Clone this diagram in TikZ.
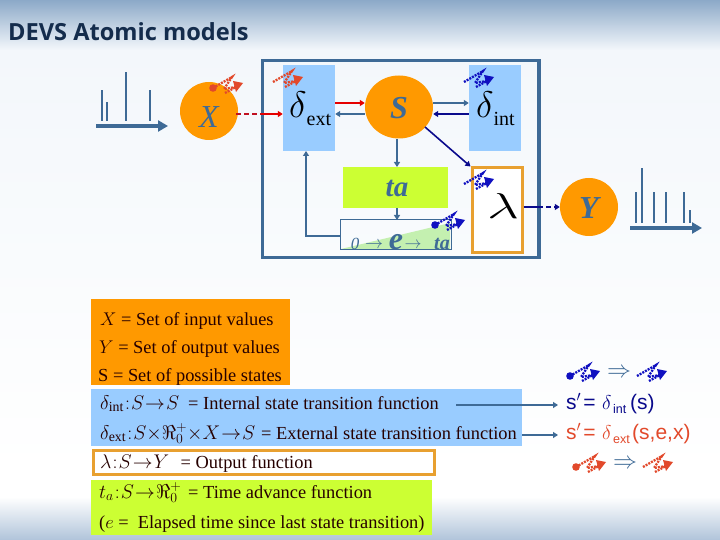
\documentclass[tikz,border=0pt]{standalone}
\usepackage{fix-cm}
\usepackage{fontspec}
\setmainfont{Liberation Serif}
\newfontfamily\titlefont{Open Sans}
\newfontfamily\arial{Liberation Sans}
\usetikzlibrary{arrows.meta,calc,shapes.geometric}
\definecolor{steel}{HTML}{3E6A96}
\definecolor{navyb}{HTML}{0A0A8C}
\definecolor{orng}{HTML}{FF9900}
\definecolor{orbd}{HTML}{E8A030}
\definecolor{skyb}{HTML}{99CCFF}
\definecolor{lime}{HTML}{CCFF33}
\definecolor{redo}{HTML}{E2492B}
\definecolor{blued}{HTML}{1010C0}
\definecolor{wine}{HTML}{C01020}
\definecolor{bgtop}{HTML}{8CA9C8}
\definecolor{bgmid}{HTML}{F3F7FB}
\definecolor{bgbot}{HTML}{B0C4DA}
\definecolor{titlec}{HTML}{142C4C}
\definecolor{wedge}{HTML}{C4F0B0}
\newcommand{\tightm}{\thinmuskip=0mu\medmuskip=0mu\thickmuskip=1mu}
\tikzset{
  x=1pt,y=-1pt,
  circ/.style={ellipse,fill=orng,inner sep=0pt},
  sbox/.style={fill=skyb,inner sep=0pt,minimum width=52pt,minimum height=86pt},
  sym/.style={font=\fontsize{32}{32}\selectfont\itshape\bfseries,text=steel},
  dlab/.style={anchor=base west,inner sep=0pt,font=\fontsize{37}{37}\selectfont},
  ln/.style={steel,line width=1.4pt,-{Triangle[length=5pt,width=6pt]}},
  nv/.style={navyb,line width=1.6pt,-{Triangle[length=5pt,width=6pt]}},
  rd/.style={red!90!black,line width=1.6pt,-{Triangle[length=5pt,width=6pt]}},
  bar/.style={steel,line width=1.4pt},
  axisarrow/.style={steel,line width=3.4pt,-{Triangle[length=10pt,width=11pt]}},
  squigl/.style={line width=2.3pt,dash pattern=on 2pt off 1.1pt},
  txt/.style={anchor=base west,inner sep=0pt,font=\fontsize{18.4}{18.4}\selectfont,text=black!85!red},
  mth/.style={anchor=base west,inner sep=0pt,font=\fontsize{19.8}{19.8}\selectfont\tightm,text=black!85!red},
  frm/.style={font=\arial\fontsize{21}{21}\selectfont,anchor=base west,inner sep=0pt},
  dbl/.style={steel,inner sep=0pt,font=\fontsize{24}{24}\selectfont},
  elab/.style={anchor=base,inner sep=0pt,text=steel}
}
\newcommand{\squig}[3]{%
  \begin{scope}[shift={(#1,#2)}]
    \draw[squigl,#3] (0,0)--(19,-11)--(11,1)--(23,-1);
    \draw[squigl,#3] (12,5)--(23,-1);
    \fill[#3] (30,-5)--(20,-7)--(23,4)--cycle;
  \end{scope}}
\newcommand{\sdot}[3]{\fill[#3] (#1,#2) circle (3.8pt);}
\newcommand{\fsub}[1]{\raisebox{-4pt}{\fontsize{12.5}{12.5}\selectfont #1}}
\begin{document}
\begin{tikzpicture}
\useasboundingbox (0,0) rectangle (720,540);
% background
\fill[white] (0,0) rectangle (720,540);
\shade[top color=bgmid,bottom color=white] (0,50) rectangle (720,470);
\shade[top color=bgtop,bottom color=bgmid] (0,0) rectangle (720,50);
\shade[top color=white,bottom color=bgbot] (0,497) rectangle (720,540);
% title
\node[anchor=base west,inner sep=0pt,font=\titlefont\bfseries\fontsize{23.6}{23.6}\selectfont,text=titlec] (title) at (8,41) {DEVS Atomic models};
% frame
\draw[steel,line width=3pt] (262,61) rectangle (538,257);
\draw[steel,line width=.6pt] (540,59.5) -- (540,258.5);
% boxes
\node[sbox] (dext) at (309,108) {};
\node[sbox] (dint) at (495,108) {};
\node[dlab] (dextl) at (289,118) {$\delta$\raisebox{-8pt}{\fontsize{20}{20}\selectfont ext}};
\node[dlab] (dintl) at (476,118) {$\delta$\raisebox{-8pt}{\fontsize{20}{20}\selectfont int}};
\node[circ,minimum width=68pt,minimum height=63pt] (S) at (399,107) {};
\node[sym] (Sl) at (399,108) {S};
\node[circ,minimum width=58pt,minimum height=58pt] (X) at (209,111) {};
\node[sym,font=\fontsize{32}{32}\selectfont\itshape] (Xl) at (209,117) {X};
\node[circ,minimum width=58pt,minimum height=58pt] (Y) at (589,207) {};
\node[sym] (Yl) at (589,208) {Y};
\node[fill=lime,inner sep=0pt,minimum width=105pt,minimum height=41pt] (ta) at (395.5,187.5) {};
\node[sym,font=\fontsize{29}{29}\selectfont\itshape\bfseries] (tal) at (397,188) {ta};
% e box
\fill[wedge] (341,249)--(450,223)--(450,249)--cycle;
\node[draw=steel,line width=.7pt,inner sep=0pt,minimum width=111pt,minimum height=30pt] (ebox) at (395.5,234) {};
\node[elab,font=\fontsize{17}{17}\selectfont\itshape] (e0) at (355,249) {0};
\node[elab,font=\fontsize{18}{18}\selectfont] (e1) at (374,248.5) {$\rightarrow$};
\node[elab,font=\fontsize{32}{32}\selectfont\itshape\bfseries] (e2) at (396,249) {e};
\node[elab,font=\fontsize{17}{17}\selectfont] (e3) at (413,248.5) {$\rightarrow$};
\node[elab,font=\fontsize{20}{20}\selectfont\itshape\bfseries] (e4) at (442,249) {ta};
% lambda
\node[draw=orbd,line width=3pt,fill=white,inner sep=0pt,minimum width=50pt,minimum height=84pt] (lam) at (497,210) {};
\node[inner sep=0pt,font=\fontsize{36}{36}\selectfont] (laml) at (503,206) {\scalebox{1.55}[1]{$\lambda$}};
% connectors
\coordinate (xa) at (236,114);
\coordinate (xb) at (261,114);
\draw[wine,line width=1.6pt,dash pattern=on 5pt off 3pt] (xa)--(xb);
\draw[rd] (xb)--(dext.west|-xb);
\draw[rd] (dext.east|-0,103)--(S.west|-0,103);
\draw[ln] (S.west|-0,114)--(dext.east|-0,114);
\draw[ln] (S.east|-0,103)--(dint.west|-0,103);
\draw[nv] (dint.west|-0,114)--(S.east|-0,114);
\draw[nv] (425,127)--(lam.north west);
\draw[ln] (397,139)--(397,167);
\draw[ln] (397,208)--(397,220);
\draw[ln] (340,236)-|(306,151);
\coordinate (la) at (538,207);
\draw[navyb,line width=1.6pt] (lam.east|-la)--(la);
\draw[nv,dash pattern=on 5pt off 3pt] (la)--(Y.west|-la);
% signals left
\draw[axisarrow] (96,126)--(168,126);
\foreach \x/\t in {102/90,107/102,126/72,150/90}{\draw[bar] (\x,121)--(\x,\t);}
% signals right
\draw[axisarrow] (630,228)--(702,228);
\foreach \x/\t in {636/192,642/168,654/192,666/192,684/192,690/210}{\draw[bar] (\x,223)--(\x,\t);}
% squiggles
\sdot{213}{88}{redo}\squig{213}{88}{redo}
\squig{273}{82}{redo}
\squig{464}{82}{blued}
\squig{464}{184}{blued}
\sdot{435}{225}{blued}\squig{435}{225}{blued}
\sdot{570}{376}{blued}\squig{570}{376}{blued}
\squig{637}{376}{blued}
\sdot{576}{467}{redo}\squig{576}{467}{redo}
\squig{643}{467}{redo}
\node[dbl] (imp1) at (619,373) {$\Rightarrow$};
\node[dbl] (imp2) at (625,464) {$\Rightarrow$};
% text boxes
\fill[orng] (91,299) rectangle (290,385);
\fill[skyb] (91,389) rectangle (522,446);
\draw[orbd,line width=3pt,fill=white] (93.5,450.5) rectangle (434.5,474);
\fill[lime] (91,480) rectangle (432,535);
\node[txt] (t1) at (100,325) {$X$ = Set of input values};
\node[txt] (t2) at (99,353) {$Y$ = Set of output values};
\node[txt] (t3) at (98,381) {S = Set of possible states};
\node[mth] (t4m) at (100,409) {$\delta_{\mathrm{int}}:S\rightarrow S$};
\node[txt] (t4) at (188,409) {= Internal state transition function};
\node[mth] (t5m) at (100,439) {$\delta_{\mathrm{ext}}:S\times\Re_0^+\times X\rightarrow S$};
\node[txt] (t5) at (261,439) {= External state transition function};
\node[mth] (t6m) at (100,468) {$\lambda:S\rightarrow Y$};
\node[txt] (t6) at (180.5,468) {= Output function};
\node[mth] (t7m) at (99,498) {$t_a:S\rightarrow\Re_0^+$};
\node[txt] (t7) at (188,498) {= Time advance function};
\node[txt] (t8) at (99,528) {($e$ = \ Elapsed time since last state transition)};
% formulas
\coordinate (f1a) at (456,405);
\coordinate (f2a) at (522,435);
\node[frm,text=navyb] (f1) at (566,409) {\makebox[36pt][l]{s$'$\hspace{2pt}=}\makebox[11pt][l]{\fontsize{20}{20}\selectfont$\delta$}\makebox[17pt][l]{\fsub{int}}(s)};
\node[frm,text=redo] (f2) at (566,439) {\makebox[36pt][l]{s$'$\hspace{2pt}=}\makebox[11pt][l]{\fontsize{20}{20}\selectfont$\delta$}\makebox[19pt][l]{\fsub{ext}}(s,e,x)};
\draw[ln,shorten >=8pt] (f1a)--(f1.west|-f1a);
\draw[ln,shorten >=8pt] (f2a)--(f2.west|-f2a);
\end{tikzpicture}
\end{document}
